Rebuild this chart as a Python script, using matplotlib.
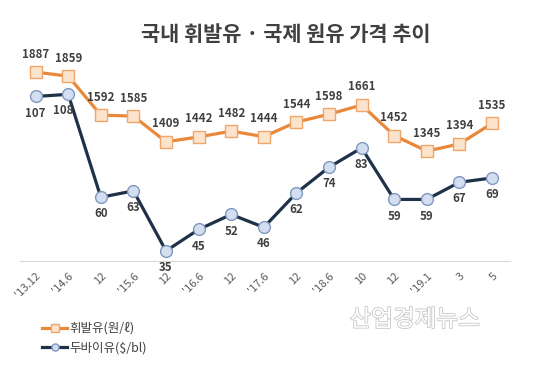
import matplotlib
matplotlib.use("Agg")
import matplotlib.pyplot as plt
import matplotlib.patheffects as pe

plt.rcParams['font.family'] = ['Noto Sans CJK KR', 'DejaVu Sans']

# 기간
months = ["'13.12", "'14.6", "12", "'15.6", "12", "'16.6", "12", "'17.6",
          "12", "'18.6", "10", "12", "'19.1", "3", "5"]
# 휘발유 (원/ℓ)
gasoline = [1887, 1859, 1592, 1585, 1409, 1442, 1482, 1444,
            1544, 1598, 1661, 1452, 1345, 1394, 1535]
# 두바이유 ($/bl)
dubai = [107, 108, 60, 63, 35, 45, 52, 46,
         62, 74, 83, 59, 59, 67, 69]

orange = '#E8883A'
navy = '#1E3148'
txt = '#404040'

fig = plt.figure(figsize=(5.48, 3.75), dpi=100)
ax1 = fig.add_axes([0.0365, 0.304, 0.894, 0.536])
ax2 = ax1.twinx()
x = list(range(len(months)))

l1, = ax1.plot(x, gasoline, color=orange, linewidth=2.3, marker='s', markersize=8.5,
               markerfacecolor='#FCE3CC', markeredgecolor='#F0A66A', markeredgewidth=1.0,
               label='휘발유(원/ℓ)', zorder=3)
l2, = ax2.plot(x, dubai, color=navy, linewidth=2.3, marker='o', markersize=8.5,
               markerfacecolor='#D3DEF1', markeredgecolor='#7F98BE', markeredgewidth=1.0,
               label='두바이유($/bl)', zorder=3)

for i, v in enumerate(gasoline):
    ax1.annotate(str(v), (i, v), xytext=(0, 13), textcoords='offset points',
                 ha='center', va='center', fontsize=8.3, fontweight='bold', color=txt)
for i, v in enumerate(dubai):
    dx = -4 if i == 1 else 0  # 108은 선을 피해 왼쪽으로
    ax2.annotate(str(v), (i, v), xytext=(dx, -12), textcoords='offset points',
                 ha='center', va='center', fontsize=8.3, fontweight='bold', color=txt)

ax1.set_xlim(-0.48, 14.55)
ax1.set_ylim(591, 1970)
ax2.set_ylim(30.3, 124)

for ax in (ax1, ax2):
    for s in ['top', 'left', 'right']:
        ax.spines[s].set_visible(False)
    ax.set_yticks([])
ax1.spines['bottom'].set_color('#D9D9D9')
ax2.spines['bottom'].set_visible(False)

ax1.set_xticks(x)
ax1.set_xticklabels(months, rotation=45, ha='right', va='top', rotation_mode='anchor',
                    fontsize=8, color='#595959')
ax1.tick_params(axis='x', length=0, pad=7)

fig.text(0.522, 0.907, '국내 휘발유 · 국제 원유 가격 추이', ha='center', va='center',
         fontsize=15, fontweight='bold', color=txt)

leg = fig.legend(handles=[l1, l2], loc='upper left', bbox_to_anchor=(0.068, 0.155),
                 frameon=False, fontsize=9, handlelength=2.0, handletextpad=0.2,
                 labelspacing=0.5, markerscale=0.6, borderaxespad=0)
for t in leg.get_texts():
    t.set_color(txt)

fig.text(0.757, 0.147, '산업경제뉴스', ha='center', va='center', fontsize=17,
         color='white', path_effects=[pe.withStroke(linewidth=1.2, foreground='#C8C8C8')])

fig.savefig('out.png', dpi=100)
